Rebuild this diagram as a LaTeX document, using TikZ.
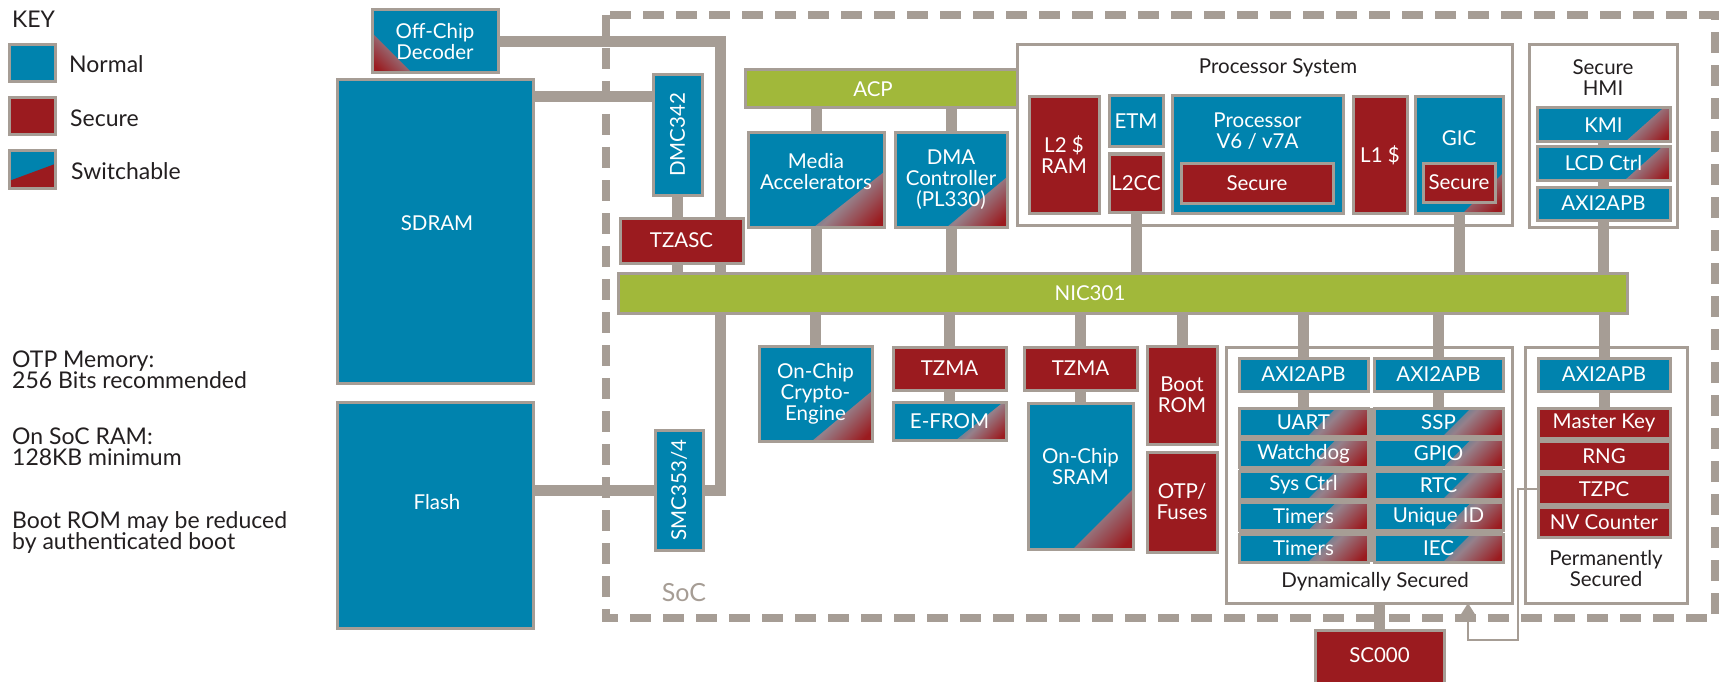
\documentclass[tikz,border=0pt]{standalone}
\usepackage{fontspec}
\setmainfont{Lato}
\usetikzlibrary{arrows.meta}
\pgfdeclarelayer{cont}
\pgfdeclarelayer{conn}
\pgfsetlayers{cont,conn,main}
\definecolor{sblue}{RGB}{0,131,174}
\definecolor{sred}{RGB}{155,27,31}
\definecolor{sgreen}{RGB}{161,184,58}
\definecolor{sgray}{RGB}{166,157,149}
\definecolor{stxt}{RGB}{35,31,32}
\definecolor{smid}{RGB}{150,128,138}
\pgfdeclareverticalshading{swsh}{100bp}{color(0bp)=(sred); color(18bp)=(sred); color(34bp)=(smid); color(50bp)=(sblue); color(100bp)=(sblue)}
\newcommand\boxfont{\fontsize{20.5}{21}\selectfont}
\newcommand\keyfont{\fontsize{23}{21}\selectfont}
\newcommand\socfont{\fontsize{25}{25}\selectfont}
\tikzset{
  base/.style={draw=sgray, line width=3pt, inner sep=0pt, outer sep=0pt, text=white, align=center, font=\boxfont},
  normal/.style={base, fill=sblue},
  secure/.style={base, fill=sred},
  bus/.style={base, fill=sgreen},
  contbox/.style={draw=sgray, line width=3pt, fill=white, inner sep=0pt, outer sep=0pt},
  swbr/.style 2 args={normal, path picture={\shade[shading=swsh, shading angle=45] ([xshift=-#1pt]path picture bounding box.south east) -- (path picture bounding box.south east) -- ([yshift=#2pt]path picture bounding box.south east) -- cycle;}},
  swbl/.style 2 args={normal, path picture={\shade[shading=swsh, shading angle=-45] ([xshift=#1pt]path picture bounding box.south west) -- (path picture bounding box.south west) -- ([yshift=#2pt]path picture bounding box.south west) -- cycle;}},
  conn/.style={draw=sgray, line width=11pt},
  lbl/.style={text=stxt, font=\boxfont, align=center, inner sep=0pt},
  wlbl/.style={text=white, font=\boxfont, align=center, inner sep=0pt},
  keytxt/.style={text=stxt, font=\keyfont, inner sep=0pt, anchor=base west},
}
% #1 name, #2 style, #3 x1, #4 y1, #5 x2, #6 y2, #7 text
\newcommand\bbox[7]{\node[#2, minimum width={(#5)-(#3)}, minimum height={(#6)-(#4)}] (#1) at ({((#3)+(#5))/2},{((#4)+(#6))/2}) {#7};}

\begin{document}
\begin{tikzpicture}[x=1pt,y=-1pt]
\useasboundingbox (0,0) rectangle (1721,682);

% ---------- containers ----------
\begin{pgfonlayer}{cont}
  \draw[sgray, line width=8pt, dash pattern=on 21pt off 12pt] (606,15) rectangle (1715,618);
  \bbox{psys}{contbox}{1017}{45}{1512}{225}{}
  \bbox{hmi}{contbox}{1529}{45}{1677}{227}{}
  \bbox{dyn}{contbox}{1226}{347}{1512}{603}{}
  \bbox{perm}{contbox}{1525}{347}{1687}{603}{}
\end{pgfonlayer}

% ---------- key ----------
\node[keytxt] (keyt) at (12,28) {KEY};
\bbox{kn}{normal}{9}{45}{55}{82}{}
\node[keytxt] (knt) at (69,73) {Normal};
\bbox{ks}{secure}{9}{98}{55}{135}{}
\node[keytxt] (kst) at (70,127) {Secure};
\node[normal, minimum width=46, minimum height=37, path picture={\fill[sred] ([yshift=7pt]path picture bounding box.south west) -- ([yshift=24pt]path picture bounding box.south east) -- (path picture bounding box.south east) -- (path picture bounding box.south west) -- cycle;}] (ksw) at (32,169.5) {};
\node[keytxt] (kswt) at (71,179) {Switchable};

% ---------- notes ----------
\node[keytxt] (n1) at (12,367) {OTP Memory:};
\node[keytxt] (n2) at (12,388) {256 Bits recommended};
\node[keytxt] (n3) at (12,444) {On SoC RAM:};
\node[keytxt] (n4) at (12,465) {128KB minimum};
\node[keytxt] (n5) at (12,528) {Boot ROM may be reduced};
\node[keytxt] (n6) at (12,549) {by authenticated boot};

% ---------- off-chip ----------
\bbox{dec}{swbl={40}{40}}{372}{10}{498}{73}{Off-Chip\\Decoder}
\bbox{sdram}{normal}{337}{80}{533}{383}{}
\node[wlbl] (sdramt) at (437,223) {SDRAM};
\bbox{flash}{normal}{337}{402}{533}{628}{}
\node[wlbl] (flasht) at (437,502) {Flash};
\node[text=sgray, font=\socfont, inner sep=0pt] (soct) at (684,593) {SoC};

% ---------- memory controllers / buses ----------
\bbox{dmc}{normal}{653}{75}{702}{195}{}
\node[wlbl, rotate=90] (dmct) at (dmc.center) {DMC342};
\bbox{tzasc}{secure}{620}{218}{743}{263}{TZASC}
\bbox{smc}{normal}{655}{430}{703}{550}{}
\node[wlbl, rotate=90] (smct) at (smc.center) {SMC353/4};
\bbox{acp}{bus}{745}{70}{1017}{108}{}
\node[wlbl] (acpt) at (873,89) {ACP};
\bbox{nic}{bus}{618}{273}{1627}{313}{}
\node[wlbl] (nict) at (1090,293) {NIC301};

% ---------- upper masters ----------
\bbox{media}{swbr={70}{55}}{748}{133}{884}{227}{}
\node[wlbl] (mediat) at (816,171.5) {Media\\Accelerators};
\bbox{dma}{swbr={60}{50}}{895}{133}{1007}{227}{DMA\\Controller\\(PL330)}

% ---------- processor system ----------
\node[lbl] (psyst) at (1278,68) {Processor System};
\bbox{l2ram}{secure}{1029}{97}{1099}{213}{L2 \$\\RAM}
\bbox{etm}{normal}{1109}{96}{1163}{147}{ETM}
\bbox{l2cc}{secure}{1109}{154}{1163}{212}{L2CC}
\bbox{proc}{normal}{1172}{96}{1343}{213}{}
\node[wlbl] (proct) at (1257.5,131) {Processor\\V6 / v7A};
\bbox{procsec}{secure}{1181}{163}{1333}{203}{Secure}
\bbox{l1}{secure}{1353}{97}{1407}{213}{L1 \$}
\bbox{gic}{swbr={40}{40}}{1415}{97}{1503}{213}{}
\node[wlbl] (gict) at (1459,138) {GIC};
\bbox{gicsec}{secure}{1423}{163}{1495}{202}{Secure}

% ---------- secure HMI ----------
\node[lbl] (hmit) at (1603,77.5) {Secure\\HMI};
\bbox{kmi}{swbr={45}{40}}{1537}{108}{1670}{142}{KMI}
\bbox{lcd}{swbr={45}{40}}{1537}{147}{1670}{180}{LCD Ctrl}
\bbox{hmiaxi}{normal}{1537}{187}{1670}{220}{AXI2APB}

% ---------- lower slaves ----------
\bbox{crypto}{swbr={60}{50}}{759}{346}{872}{441}{On-Chip\\Crypto-\\Engine}
\bbox{tzma1}{secure}{893}{347}{1006}{390}{TZMA}
\bbox{efrom}{swbr={50}{40}}{893}{402}{1006}{440}{E-FROM}
\bbox{tzma2}{secure}{1024}{347}{1137}{390}{TZMA}
\bbox{sram}{swbr={60}{60}}{1028}{403}{1133}{549}{}
\node[wlbl] (sramt) at (1080.5,467) {On-Chip\\SRAM};
\bbox{boot}{secure}{1147}{346}{1217}{444}{Boot\\ROM}
\bbox{otp}{secure}{1147}{452}{1217}{552}{OTP/\\Fuses}

% ---------- dynamically secured ----------
\node[lbl] (dynt) at (1375,582) {Dynamically Secured};
\bbox{axl}{normal}{1239}{358}{1368}{391}{AXI2APB}
\bbox{axr}{normal}{1374}{358}{1503}{391}{AXI2APB}
\bbox{uart}{swbr={60}{60}}{1239}{408}{1368}{436}{UART}
\bbox{wdog}{swbr={60}{60}}{1239}{439.5}{1368}{467.5}{Watchdog}
\bbox{sysc}{swbr={60}{60}}{1239}{471}{1368}{499}{Sys Ctrl}
\bbox{tima}{swbr={60}{60}}{1239}{502.5}{1368}{530.5}{Timers}
\bbox{timb}{swbr={60}{60}}{1239}{534}{1368}{562}{Timers}
\bbox{ssp}{swbr={60}{60}}{1374}{408}{1503}{436}{SSP}
\bbox{gpio}{swbr={60}{60}}{1374}{439.5}{1503}{467.5}{GPIO}
\bbox{rtc}{swbr={60}{60}}{1374}{471}{1503}{499}{RTC}
\bbox{uid}{swbr={60}{60}}{1374}{502.5}{1503}{530.5}{Unique ID}
\bbox{iec}{swbr={60}{60}}{1374}{534}{1503}{562}{IEC}

% ---------- permanently secured ----------
\node[lbl] (permt) at (1606,569) {Permanently\\Secured};
\bbox{paxi}{normal}{1538}{358}{1670}{391}{AXI2APB}
\bbox{mkey}{secure}{1538}{408}{1670}{438}{Master Key}
\bbox{rng}{secure}{1538}{441}{1670}{471}{RNG}
\bbox{tzpc}{secure}{1538}{474}{1670}{504}{TZPC}
\bbox{nvc}{secure}{1538}{507}{1670}{537}{NV Counter}

\bbox{sc}{secure}{1315}{630}{1444}{690}{}
\node[wlbl] (sct) at (1379.5,655) {SC000};

% ---------- connectors ----------
\begin{pgfonlayer}{conn}
  \coordinate (dcor) at (720,41.5);
  \coordinate (sdy) at (560,97);
  \coordinate (scor) at (720,490);
  \coordinate (ta) at (1518,640);
  \coordinate (tb) at (1468,640);
  \fill[sgray] (uart.north west) rectangle (iec.south east);
  \fill[sgray] (mkey.north west) rectangle (nvc.south east);
  \draw[conn] (dec.east) -- (dcor) -- (dcor |- nic.north);
  \draw[conn] (sdram.east |- sdy) -- (dmc.west |- sdy);
  \draw[conn] (dmc.south) -- (dmc.south |- nic.north);
  \draw[conn] (flash.east |- smc.west) -- (smc.west);
  \draw[conn] (smc.east) -- (scor) -- (scor |- nic.south);
  \draw[conn] (media.north |- acp.south) -- (media.north);
  \draw[conn] (dma.north |- acp.south) -- (dma.north);
  \draw[conn] (media.south) -- (media.south |- nic.north);
  \draw[conn] (dma.south) -- (dma.south |- nic.north);
  \draw[conn] (l2cc.south) -- (l2cc.south |- nic.north);
  \draw[conn] (gic.south) -- (gic.south |- nic.north);
  \draw[conn] (hmiaxi.south) -- (hmiaxi.south |- nic.north);
  \draw[conn] (kmi.south) -- (lcd.north);
  \draw[conn] (lcd.south) -- (hmiaxi.north);
  \draw[conn] (crypto.north) -- (crypto.north |- nic.south);
  \draw[conn] (tzma1.north) -- (tzma1.north |- nic.south);
  \draw[conn] (tzma1.south) -- (efrom.north);
  \draw[conn] (tzma2.north) -- (tzma2.north |- nic.south);
  \draw[conn] (tzma2.south) -- (tzma2.south |- sram.north);
  \draw[conn] (boot.north) -- (boot.north |- nic.south);
  \draw[conn] (axl.north) -- (axl.north |- nic.south);
  \draw[conn] (axr.north) -- (axr.north |- nic.south);
  \draw[conn] (paxi.north) -- (paxi.north |- nic.south);
  \draw[conn] (axl.south) -- (uart.north);
  \draw[conn] (axr.south) -- (ssp.north);
  \draw[conn] (paxi.south) -- (mkey.north);
  \draw[conn] (sc.north) -- (sc.north |- dyn.south);
  \draw[sgray, line width=2.5pt, -{Triangle[width=13pt,length=11pt]}] (tzpc.west) -| (ta) -- (tb) -- (tb |- dyn.south);
\end{pgfonlayer}
\end{tikzpicture}
\end{document}
